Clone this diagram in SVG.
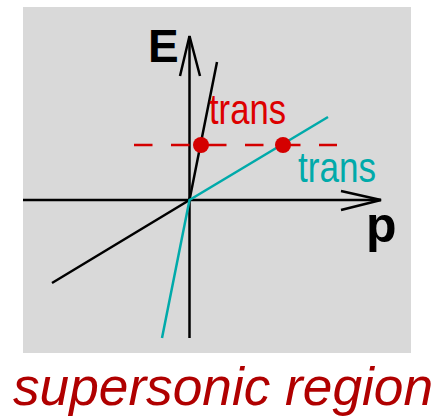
<svg xmlns="http://www.w3.org/2000/svg" width="442" height="419" viewBox="0 0 442 419">
<style>
.ax{stroke:#000;stroke-width:2.5;fill:none}
.blk{stroke:#000;stroke-width:2.5;fill:none}
.cy{stroke:#00aaaa;stroke-width:2.5;fill:none}
.dash{stroke:#d40000;stroke-width:2.5;fill:none;stroke-dasharray:18.5 18.5}
.dot{fill:#d40000}
.lbl{font-family:"Liberation Sans",Arial,sans-serif;font-size:42px}
.bold{font-family:"Liberation Sans",Arial,sans-serif;font-weight:bold}
</style>
<rect x="23" y="7" width="388" height="346" fill="#d9d9d9"/>
<g id="connectors">
<line class="ax" x1="23" y1="200" x2="381" y2="200"/>
<polyline class="ax" points="341,191 381,200 341,210"/>
<line class="ax" x1="189.5" y1="338" x2="189.5" y2="36"/>
<polyline class="ax" points="180,76 189.5,36 200,76"/>
<polyline class="blk" points="52,283 189.5,200 217,62"/>
<polyline class="cy" points="162,338 189.5,200 328,117"/>
<line class="dash" x1="134" y1="145" x2="337" y2="145"/>
</g>
<g id="dot1"><circle class="dot" cx="201" cy="145" r="8"/></g>
<g id="dot2"><circle class="dot" cx="283" cy="145" r="8"/></g>
<g id="label-E"><text class="bold" x="148" y="62" font-size="46">E</text></g>
<g id="label-p"><text class="bold" x="366" y="242" font-size="50">p</text></g>
<g id="label-trans-red"><text class="lbl" x="209" y="124" fill="#dd0000" textLength="77" lengthAdjust="spacingAndGlyphs">trans</text></g>
<g id="label-trans-cyan"><text class="lbl" x="298" y="182" fill="#00aaaa" textLength="78" lengthAdjust="spacingAndGlyphs">trans</text></g>
<g id="caption"><text x="13" y="405" font-family="'Liberation Sans',Arial,sans-serif" font-style="italic" font-size="53" fill="#b00000" textLength="420" lengthAdjust="spacingAndGlyphs">supersonic region</text></g>
</svg>
